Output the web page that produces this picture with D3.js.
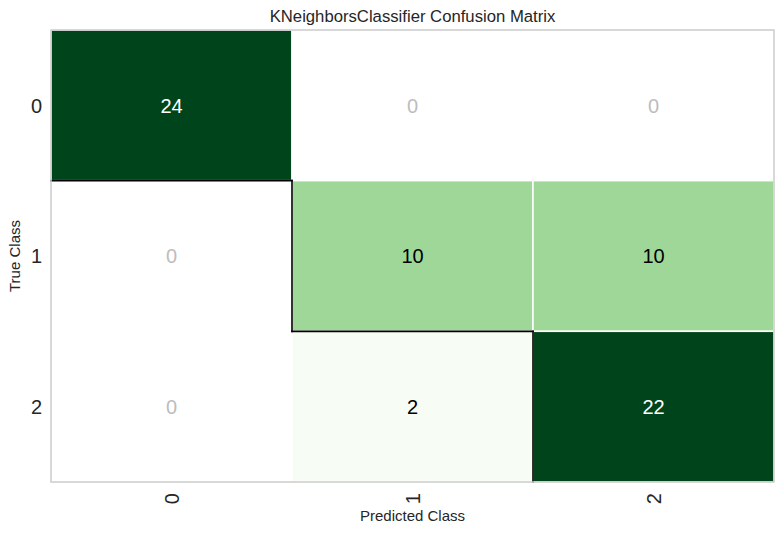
<!DOCTYPE html>
<html>
<head>
<meta charset="utf-8">
<script src="https://cdn.jsdelivr.net/npm/d3@7"></script>
<style>
  html, body { margin: 0; padding: 0; background: #fff; }
  text { font-family: "Liberation Sans", Arial, sans-serif; }
</style>
</head>
<body>
<svg id="chart" width="784" height="534"></svg>
<script>
const title = "KNeighborsClassifier Confusion Matrix";
const classes = ["0", "1", "2"];
// rows = true class, columns = predicted class
const matrix = [
  [24, 0, 0],
  [0, 10, 10],
  [0, 2, 22]
];
const xLabel = "Predicted Class";
const yLabel = "True Class";

const W = 784, H = 534;
const margin = { left: 51, right: 10, top: 30, bottom: 52 };
const svg = d3.select("#chart");

const x = d3.scaleBand().domain(classes).range([margin.left, W - margin.right]);
const y = d3.scaleBand().domain(classes).range([margin.top, H - margin.bottom]);

const greens = d3.schemeGreens[9];
const vmin = 2.5, vmax = 22;
const color = d3.scaleLinear()
  .domain(greens.map((_, i) => vmin + i / (greens.length - 1) * (vmax - vmin)))
  .range(greens)
  .clamp(true);

const cells = [];
matrix.forEach((row, i) => row.forEach((v, j) => cells.push({ r: classes[i], c: classes[j], i, j, v })));

// cell fills
svg.append("g").selectAll("rect").data(cells).join("rect")
  .attr("x", d => x(d.c)).attr("y", d => y(d.r))
  .attr("width", x.bandwidth()).attr("height", y.bandwidth())
  .attr("fill", d => d.v === 0 ? "#ffffff" : color(d.v))
  .attr("stroke", "#ffffff").attr("stroke-width", 1.5);

// dark staircase edges on the diagonal
const edges = [];
classes.forEach((k, i) => {
  if (i > 0) edges.push({ x1: x(k), x2: x(k), y1: y(k), y2: y(k) + y.bandwidth() });
  if (i < classes.length - 1) edges.push({ x1: x(k), x2: x(k) + x.bandwidth(), y1: y(k) + y.bandwidth(), y2: y(k) + y.bandwidth() });
});
svg.append("g").selectAll("line").data(edges).join("line")
  .attr("x1", d => d.x1).attr("x2", d => d.x2).attr("y1", d => d.y1).attr("y2", d => d.y2)
  .attr("stroke", "#000").attr("stroke-width", 1.6).attr("stroke-linecap", "square");

// cell values
svg.append("g").selectAll("text").data(cells).join("text")
  .attr("x", d => x(d.c) + x.bandwidth() / 2)
  .attr("y", d => y(d.r) + y.bandwidth() / 2)
  .attr("dy", "0.36em")
  .attr("text-anchor", "middle")
  .attr("font-size", 20)
  .attr("fill", d => d.v === 0 ? "#bdbdbd" : (d3.hsl(color(d.v)).l < 0.5 ? "#ffffff" : "#000000"))
  .text(d => d.v);

// frame
svg.append("rect")
  .attr("x", margin.left).attr("y", margin.top)
  .attr("width", W - margin.left - margin.right).attr("height", H - margin.top - margin.bottom)
  .attr("fill", "none").attr("stroke", "#cccccc").attr("stroke-width", 1.5);

// y ticks
svg.append("g").selectAll("text").data(classes).join("text")
  .attr("x", margin.left - 9).attr("y", d => y(d) + y.bandwidth() / 2)
  .attr("dy", "0.36em").attr("text-anchor", "end")
  .attr("font-size", 20).attr("fill", "#262626").text(d => d);

// x ticks rotated
svg.append("g").selectAll("text").data(classes).join("text")
  .attr("transform", d => `translate(${x(d) + x.bandwidth() / 2},${H - margin.bottom + 11}) rotate(-90)`)
  .attr("dy", "0.36em").attr("text-anchor", "end")
  .attr("font-size", 20).attr("fill", "#262626").text(d => d);

// axis labels
svg.append("text")
  .attr("x", margin.left + (W - margin.left - margin.right) / 2).attr("y", 521)
  .attr("text-anchor", "middle").attr("font-size", 15).attr("fill", "#262626").text(xLabel);
svg.append("text")
  .attr("transform", `translate(20,${margin.top + (H - margin.top - margin.bottom) / 2}) rotate(-90)`)
  .attr("text-anchor", "middle").attr("font-size", 15).attr("fill", "#262626").text(yLabel);

// title
svg.append("text")
  .attr("x", margin.left + (W - margin.left - margin.right) / 2).attr("y", 22)
  .attr("text-anchor", "middle").attr("font-size", 16.7).attr("fill", "#262626").text(title);
</script>
</body>
</html>
